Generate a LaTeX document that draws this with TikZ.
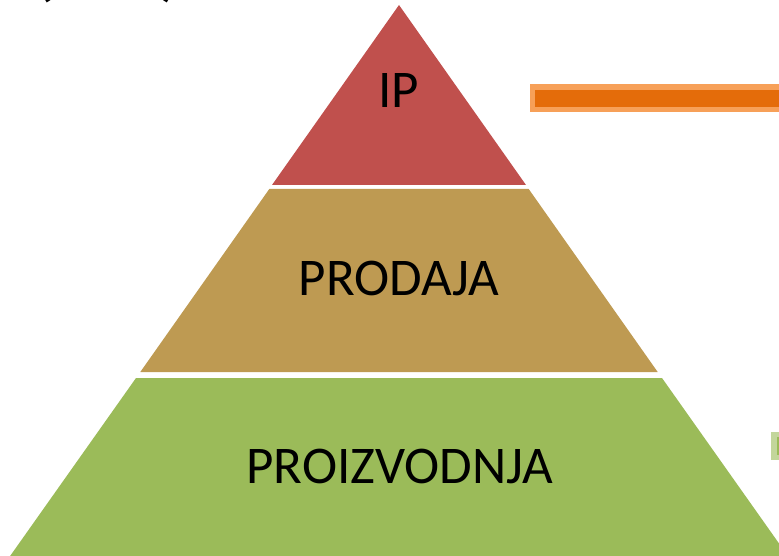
\documentclass[tikz,border=0pt]{standalone}
\usepackage{fontspec}
\setmainfont{Carlito}
\usepackage{tikz}
\definecolor{ipred}{HTML}{C0504D}
\definecolor{prodtan}{HTML}{BE9A52}
\definecolor{proizgreen}{HTML}{9BBB59}
\definecolor{lightgreen}{HTML}{C3D69B}
\definecolor{barorange}{HTML}{E46C0A}
\definecolor{lightorange}{HTML}{F7A058}

\begin{document}
\begin{tikzpicture}[x=1pt,y=-1pt,
	level/.style={font=\fontsize{53}{60}\selectfont, anchor=base, inner sep=0pt}]
	\useasboundingbox (0,0) rectangle (779,556);
	\clip (0,0) rectangle (779,556);

	% layers of the pyramid
	\fill[ipred] (399,5) -- (526,185) -- (272,185) -- cycle;
	\fill[prodtan] (269.3,189) -- (528.7,189) -- (657.7,372) -- (140.3,372) -- cycle;
	\fill[proizgreen] (136,378) -- (662,378) -- (790,559) -- (8,559) -- cycle;

	\node[level] (ip) at (399,108) {IP};
	\node[level] (prodaja) at (399,295) {PRODAJA};
	\node[level] (proizvodnja) at (400,483) {PROIZVODNJA};

	% bars on the right
	\fill[lightorange] (530,84) rectangle (790,112);
	\fill[barorange] (535,90) rectangle (790,107);
	\fill[lightgreen] (771,432) rectangle (790,460);
	\fill[proizgreen] (777,437) rectangle (790,455);

	% heading, cut off at the top
	\node[level, font=\bfseries\fontsize{56}{60}\selectfont] (lpar) at (45,-5) {(};
	\node[level, font=\bfseries\fontsize{56}{60}\selectfont] (rpar) at (169,-5) {)};
\end{tikzpicture}
\end{document}
